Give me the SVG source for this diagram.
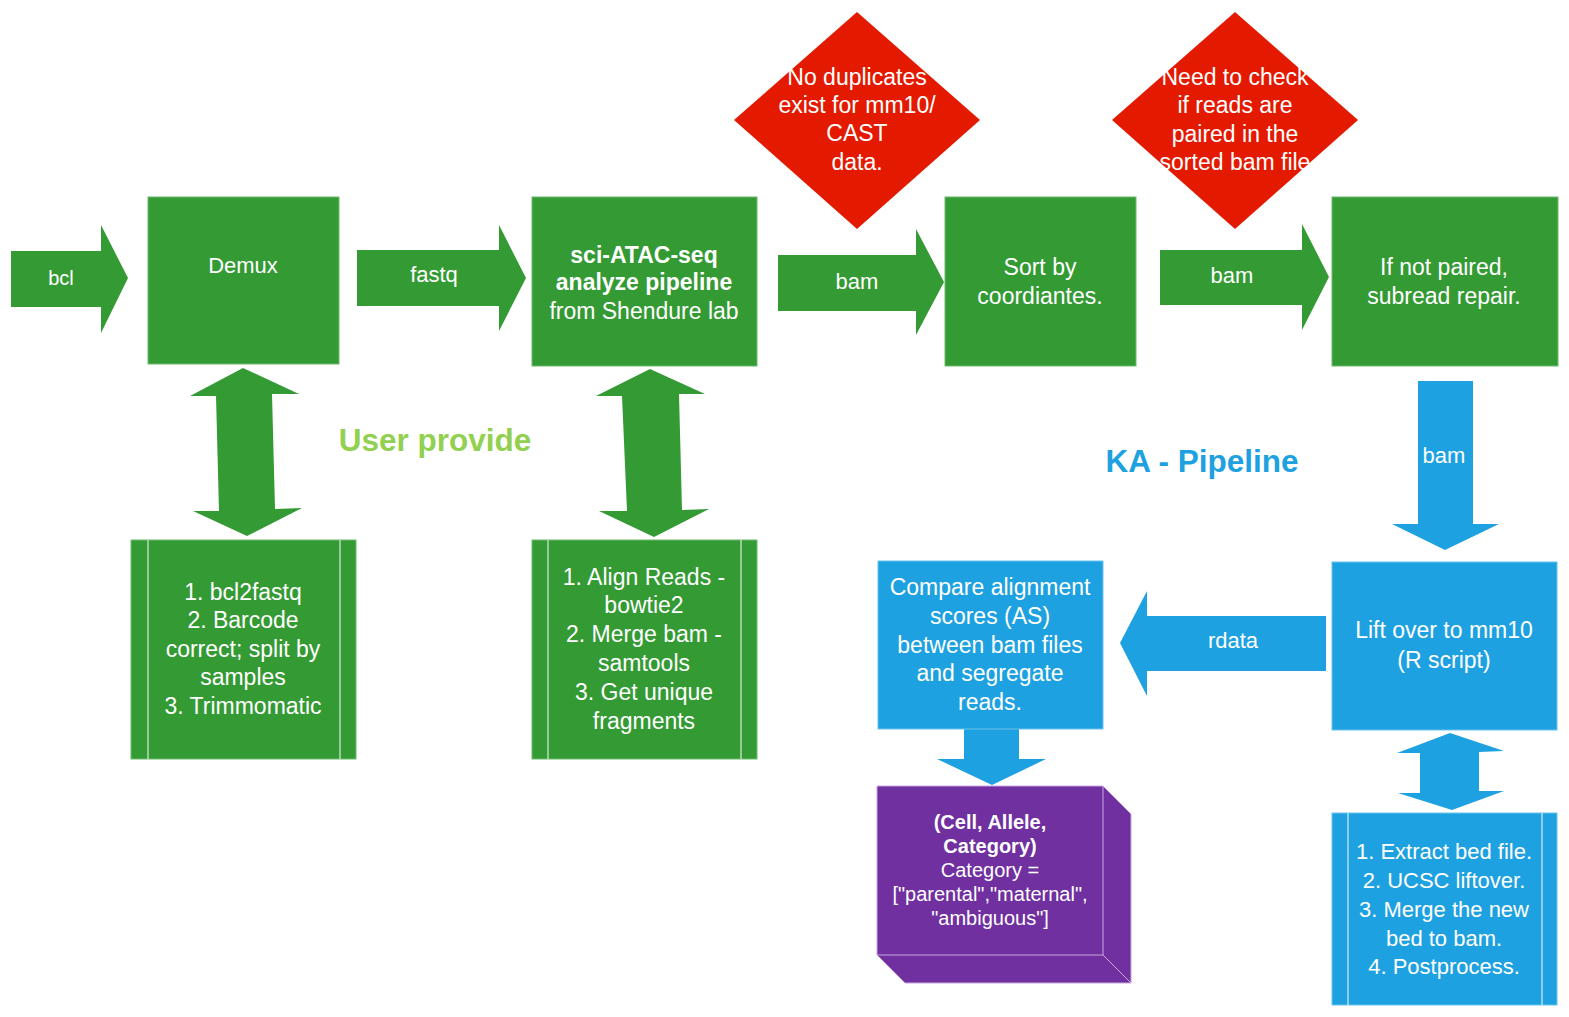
<svg xmlns="http://www.w3.org/2000/svg" width="1569" height="1017" viewBox="0 0 1569 1017">
<style>
.g{fill:#349a34;stroke:#6dbb6d;stroke-width:1}
.b{fill:#1ea1e0;stroke:#6cc3ee;stroke-width:1}
.r{fill:#e41a00}
.ga{fill:#349a34}
.ba{fill:#1ea1e0}
.ln{stroke:#d8ecd8;stroke-width:1.2;fill:none}
.lnb{stroke:#d5eefa;stroke-width:1.2;fill:none}
.t{font-family:"Liberation Sans",Arial,sans-serif;font-size:23px;fill:#fff;text-anchor:middle}
.tb{font-weight:bold}
.s20{font-size:20px}
.s22{font-size:22px}
.lab{font-family:"Liberation Sans",Arial,sans-serif;font-size:31.5px;font-weight:bold;text-anchor:middle}
</style>

<g id="connectors">
  <polygon id="a-bcl" class="ga" points="11,251 101,251 101,225 128,278 101,333 101,307 11,307"/>
  <polygon id="a-fastq" class="ga" points="357,250 499,250 499,225 526,278 499,331 499,306 357,306"/>
  <polygon id="a-bam1" class="ga" points="778,255 916,255 916,229 944,282 916,335 916,311 778,311"/>
  <polygon id="a-bam2" class="ga" points="1160,250 1302,250 1302,224 1329,277 1302,330 1302,305 1160,305"/>
  <polygon id="a-dbl1" class="ga" points="243,368 299,394 272,394 275,509 302,508 247,536 193,511 219,511 216,396 190,396"/>
  <polygon id="a-dbl2" class="ga" points="650,369 705,394 679,394 682,510 709,509 654,537 599,511 627,511 622,396 596,396"/>
  <polygon id="a-bam3" class="ba" points="1418,381 1473,381 1473,524 1499,524 1445,550 1392,524 1418,524"/>
  <polygon id="a-rdata" class="ba" points="1326,616 1147,616 1147,591 1120,643 1147,696 1147,671 1326,671"/>
  <polygon id="a-dbl3" class="ba" points="1450,733 1504,751 1479,752 1479,791 1504,791 1452,810 1398,793 1420,793 1420,753 1397,753"/>
  <polygon id="a-down" class="ba" points="964,729 1019,729 1019,759 1046,759 992,785 937,759 964,759"/>
  <text class="t s20" x="61" y="285">bcl</text>
  <text class="t s22" x="434" y="282">fastq</text>
  <text class="t s22" x="857" y="289">bam</text>
  <text class="t s22" x="1232" y="283">bam</text>
  <text class="t s22" x="1444" y="463">bam</text>
  <text class="t s22" x="1233" y="648">rdata</text>
</g>

<g id="demux">
  <rect class="g" x="148" y="197" width="191" height="167"/>
  <text class="t s22" x="243" y="273">Demux</text>
</g>

<g id="sci">
  <rect class="g" x="532" y="197" width="225" height="169"/>
  <text class="t tb" x="644" y="263">sci-ATAC-seq</text>
  <text class="t tb" x="644" y="290">analyze pipeline</text>
  <text class="t" x="644" y="319">from Shendure lab</text>
</g>

<g id="dup">
  <polygon class="r" points="857,12 980,120 857,229 734,120"/>
  <text class="t" x="857" y="85">No duplicates</text>
  <text class="t" x="857" y="113">exist for mm10/</text>
  <text class="t" x="857" y="141">CAST</text>
  <text class="t" x="857" y="170">data.</text>
</g>

<g id="sort">
  <rect class="g" x="945" y="197" width="191" height="169"/>
  <text class="t" x="1040" y="275">Sort by</text>
  <text class="t" x="1040" y="304">coordiantes.</text>
</g>

<g id="check">
  <polygon class="r" points="1235,12 1358,120 1235,229 1112,120"/>
  <text class="t" x="1235" y="85">Need to check</text>
  <text class="t" x="1235" y="113">if reads are</text>
  <text class="t" x="1235" y="142">paired in the</text>
  <text class="t" x="1235" y="170">sorted bam file</text>
</g>

<g id="repair">
  <rect class="g" x="1332" y="197" width="226" height="169"/>
  <text class="t" x="1444" y="275">If not paired,</text>
  <text class="t" x="1444" y="304">subread repair.</text>
</g>

<g id="user-provide">
  <text class="lab" x="435" y="451" fill="#92d050">User provide</text>
</g>

<g id="ka-pipeline">
  <text class="lab" x="1202" y="472" fill="#1ea1e0">KA - Pipeline</text>
</g>

<g id="list1">
  <rect class="g" x="131" y="540" width="225" height="219"/>
  <line class="ln" x1="148" y1="540" x2="148" y2="759"/>
  <line class="ln" x1="340" y1="540" x2="340" y2="759"/>
  <text class="t" x="243" y="600">1. bcl2fastq</text>
  <text class="t" x="243" y="628">2. Barcode</text>
  <text class="t" x="243" y="657">correct; split by</text>
  <text class="t" x="243" y="685">samples</text>
  <text class="t" x="243" y="714">3. Trimmomatic</text>
</g>

<g id="list2">
  <rect class="g" x="532" y="540" width="225" height="219"/>
  <line class="ln" x1="548" y1="540" x2="548" y2="759"/>
  <line class="ln" x1="741" y1="540" x2="741" y2="759"/>
  <text class="t" x="644" y="585">1. Align Reads -</text>
  <text class="t" x="644" y="613">bowtie2</text>
  <text class="t" x="644" y="642">2. Merge bam -</text>
  <text class="t" x="644" y="671">samtools</text>
  <text class="t" x="644" y="700">3. Get unique</text>
  <text class="t" x="644" y="729">fragments</text>
</g>

<g id="compare">
  <rect class="b" x="878" y="561" width="225" height="168"/>
  <text class="t" x="990" y="595">Compare alignment</text>
  <text class="t" x="990" y="624">scores (AS)</text>
  <text class="t" x="990" y="653">between bam files</text>
  <text class="t" x="990" y="681">and segregate</text>
  <text class="t" x="990" y="710">reads.</text>
</g>

<g id="liftover">
  <rect class="b" x="1332" y="562" width="225" height="168"/>
  <text class="t" x="1444" y="638">Lift over to mm10</text>
  <text class="t" x="1444" y="668">(R script)</text>
</g>

<g id="output">
  <polygon fill="#7030a0" stroke="#c9a8e2" stroke-width="1" points="877,786 1103,786 1131,814 1131,983 905,983 877,955"/>
  <polyline fill="none" stroke="#c9a8e2" stroke-width="1" points="877,955 1103,955 1103,786"/>
  <line stroke="#c9a8e2" stroke-width="1" x1="1103" y1="955" x2="1131" y2="983"/>
  <text class="t s20 tb" x="990" y="829">(Cell, Allele,</text>
  <text class="t s20 tb" x="990" y="853">Category)</text>
  <text class="t s20" x="990" y="877">Category =</text>
  <text class="t s20" x="990" y="901">["parental","maternal",</text>
  <text class="t s20" x="990" y="925">"ambiguous"]</text>
</g>

<g id="list3">
  <rect class="b" x="1332" y="813" width="225" height="192"/>
  <line class="lnb" x1="1348" y1="813" x2="1348" y2="1005"/>
  <line class="lnb" x1="1542" y1="813" x2="1542" y2="1005"/>
  <text class="t s22" x="1444" y="859">1. Extract bed file.</text>
  <text class="t s22" x="1444" y="888">2. UCSC liftover.</text>
  <text class="t s22" x="1444" y="917">3. Merge the new</text>
  <text class="t s22" x="1444" y="946">bed to bam.</text>
  <text class="t s22" x="1444" y="974">4. Postprocess.</text>
</g>
</svg>
